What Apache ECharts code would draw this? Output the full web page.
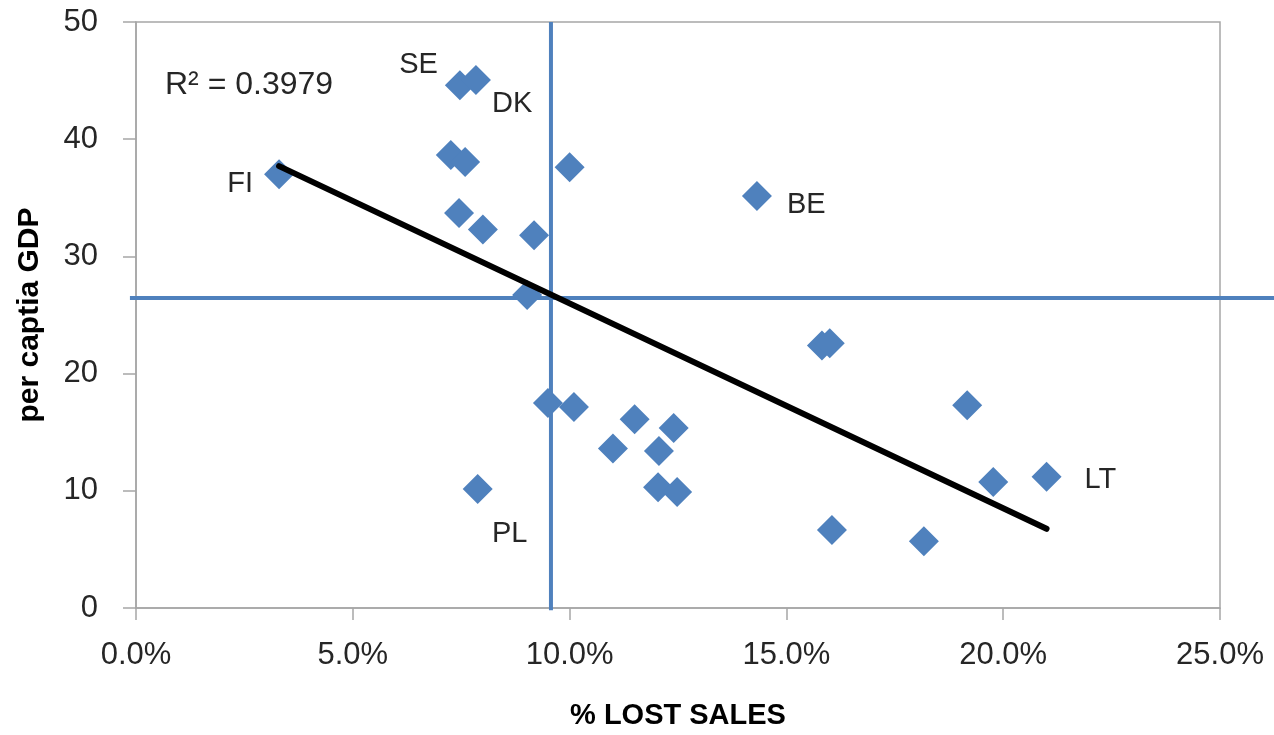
<!DOCTYPE html>
<html>
<head>
<meta charset="utf-8">
<script src="https://cdn.jsdelivr.net/npm/echarts@6/dist/echarts.min.js"></script>
<style>
  html, body { margin: 0; padding: 0; background: #fff; }
  #main { width: 1274px; height: 735px; }
</style>
</head>
<body>
<div id="main"></div>
<script>
// country labels ('' = unlabelled point)
var names = ["FI", "SE", "DK", "", "", "", "", "", "", "", "BE", "", "", "", "", "", "", "", "", "PL", "", "", "", "", "", "LT", ""];
// % lost sales
var lostSales = [3.3, 7.47, 7.84, 7.26, 7.59, 10.0, 7.45, 8.0, 9.18, 9.02, 14.32, 9.5, 10.1, 11.5, 12.4, 11.0, 12.06, 12.04, 12.48, 7.88, 15.82, 16.0, 16.05, 19.17, 19.77, 21.0, 18.17];
// per capita GDP
var gdp = [37.0, 44.6, 45.05, 38.65, 38.05, 37.6, 33.7, 32.3, 31.8, 26.7, 35.15, 17.5, 17.15, 16.1, 15.35, 13.6, 13.4, 10.3, 9.9, 10.15, 22.4, 22.6, 6.65, 17.3, 10.75, 11.2, 5.7];
// reference (cross) lines
var refX = 9.57;
var refY = 26.45;
var xTicks = [0, 5, 10, 15, 20, 25];
var yTicks = [0, 10, 20, 30, 40, 50];

var blue = "#4F81BD";
var font = "'Liberation Sans', Arial, sans-serif";
var txt = "#262626";

// label placement per country
var labelPos = {
  FI: { position: "left", offset: [-6, 10] },
  SE: { position: "left", offset: [-2, -20] },
  DK: { position: "right", offset: [-4, 24] },
  BE: { position: "right", offset: [10, 9] },
  PL: { position: "bottom", offset: [32, 10] },
  LT: { position: "right", offset: [18, 3] }
};

var points = [];
for (var i = 0; i < lostSales.length; i++) {
  var p = { value: [lostSales[i], gdp[i]], name: names[i] };
  if (names[i]) {
    p.label = Object.assign({ show: true, formatter: names[i] }, labelPos[names[i]]);
  }
  points.push(p);
}

// least squares trend line
var n = lostSales.length, sx = 0, sy = 0, sxx = 0, sxy = 0;
for (var i = 0; i < n; i++) {
  sx += lostSales[i]; sy += gdp[i];
  sxx += lostSales[i] * lostSales[i]; sxy += lostSales[i] * gdp[i];
}
var slope = (n * sxy - sx * sy) / (n * sxx - sx * sx);
var icpt = (sy - slope * sx) / n;
var xMin = Math.min.apply(null, lostSales), xMax = Math.max.apply(null, lostSales);
var trend = [[xMin, icpt + slope * xMin], [xMax, icpt + slope * xMax]];

var myChart = echarts.init(document.getElementById("main"));
var option = {
  animation: false,
  textStyle: { fontFamily: font },
  grid: {
    left: 136, right: 54, top: 22, bottom: 127,
    show: true, borderColor: "#A6A6A6", borderWidth: 1.5
  },
  title: {
    text: "R² = 0.3979",
    left: 160, top: 64,
    textStyle: { fontFamily: font, fontSize: 32, fontWeight: "normal", color: txt }
  },
  xAxis: {
    type: "value",
    min: xTicks[0], max: xTicks[xTicks.length - 1], interval: 5,
    name: "% LOST SALES",
    nameLocation: "middle", nameGap: 93,
    nameTextStyle: { fontFamily: font, fontSize: 29, fontWeight: "bold", color: "#000" },
    axisLine: { show: true, lineStyle: { color: "#A6A6A6", width: 1.5 } },
    axisTick: { show: true, inside: false, length: 12, lineStyle: { color: "#A6A6A6", width: 1.5 } },
    axisLabel: {
      fontSize: 31, color: txt, margin: 32,
      formatter: function (v) { return v.toFixed(1) + "%"; }
    },
    splitLine: { show: false }
  },
  yAxis: {
    type: "value",
    min: yTicks[0], max: yTicks[yTicks.length - 1], interval: 10,
    name: "per captia GDP",
    nameLocation: "middle", nameGap: 91,
    nameTextStyle: { fontFamily: font, fontSize: 30, fontWeight: "bold", color: "#000" },
    axisLine: { show: true, lineStyle: { color: "#A6A6A6", width: 1.5 } },
    axisTick: { show: true, inside: false, length: 13, lineStyle: { color: "#A6A6A6", width: 1.5 } },
    axisLabel: { fontSize: 31, color: txt, margin: 38 },
    splitLine: { show: false }
  },
  series: [
    {
      type: "scatter",
      data: points,
      symbol: "diamond",
      symbolSize: 30,
      itemStyle: { color: blue, opacity: 1 },
      label: { show: false, fontFamily: font, fontSize: 29, color: txt },
      z: 2
    },
    {
      type: "line",
      data: trend,
      symbol: "none", silent: true,
      lineStyle: { color: "#000", width: 6, cap: "round" },
      z: 3
    }
  ]
};
myChart.setOption(option);

// cross lines placed through the axes' own scale (they run past the plot edge)
var h1 = myChart.convertToPixel({ gridIndex: 0 }, [-0.14, refY]);
var h2 = myChart.convertToPixel({ gridIndex: 0 }, [26.3, refY]);
var v1 = myChart.convertToPixel({ gridIndex: 0 }, [refX, 50]);
var v2 = myChart.convertToPixel({ gridIndex: 0 }, [refX, -0.2]);
myChart.setOption({
  graphic: [
    { type: "line", z: 1, silent: true,
      shape: { x1: h1[0], y1: h1[1], x2: h2[0], y2: h2[1] },
      style: { stroke: blue, lineWidth: 4 } },
    { type: "line", z: 1, silent: true,
      shape: { x1: v1[0], y1: v1[1], x2: v2[0], y2: v2[1] },
      style: { stroke: blue, lineWidth: 4 } }
  ]
});
</script>
</body>
</html>
